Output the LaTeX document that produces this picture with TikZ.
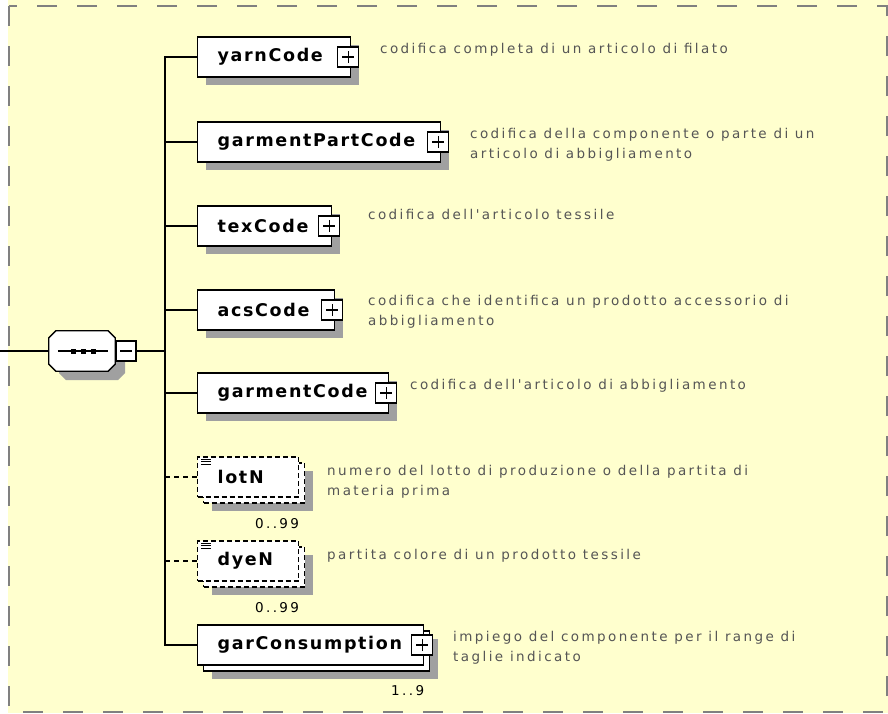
\documentclass[tikz,border=0pt]{standalone}
\usepackage{fontspec}
\usetikzlibrary{shadows}
\newfontfamily\lblfont{DejaVu Sans Bold}[LetterSpace=9.5]
\newfontfamily\descfont{DejaVu Sans}[LetterSpace=18]
\definecolor{bgyellow}{RGB}{255,255,206}
\definecolor{shadowgray}{RGB}{160,160,160}
\definecolor{bordergray}{RGB}{128,128,128}
\definecolor{desctext}{RGB}{85,85,85}

\begin{document}
\begin{tikzpicture}[x=1pt,y=-1pt,
  conn/.style={line width=1.3pt},
  optconn/.style={line width=1.3pt,dash pattern=on 5pt off 4pt},
  elembase/.style={draw,fill=white,line width=1.3pt,minimum height=40,inner xsep=20,inner ysep=0,
    text width=#1,align=left,anchor=west,font=\lblfont\fontsize{17.5}{19}\selectfont},
  elem/.style={drop shadow={shadow xshift=8pt,shadow yshift=-8pt,fill=shadowgray,opacity=1},elembase=#1},
  elemmany/.style={drop shadow={shadow xshift=14pt,shadow yshift=-14pt,fill=shadowgray,opacity=1},
    copy shadow={shadow xshift=6pt,shadow yshift=-6pt,draw=black,fill=white,line width=1.3pt},elembase=#1},
  elemopt/.style={drop shadow={shadow xshift=14pt,shadow yshift=-14pt,fill=shadowgray,opacity=1},
    copy shadow={shadow xshift=6pt,shadow yshift=-6pt,draw=black,fill=white,line width=1.3pt,dash pattern=on 5pt off 3pt},
    elembase=#1,dash pattern=on 5pt off 3pt},
  plusbox/.style={draw,fill=white,line width=1.1pt,minimum width=21,minimum height=20,inner sep=0,
    path picture={\draw[line width=1.1pt] ([xshift=-6pt]path picture bounding box.center) -- ([xshift=6pt]path picture bounding box.center)
      ([yshift=-6pt]path picture bounding box.center) -- ([yshift=6pt]path picture bounding box.center);}},
  minusbox/.style={draw,fill=white,line width=1.1pt,minimum width=20,minimum height=20,inner sep=0,
    path picture={\draw[line width=1.1pt] ([xshift=-6pt]path picture bounding box.center) -- ([xshift=6pt]path picture bounding box.center);}},
  seqbox/.style={minimum width=66,minimum height=40,inner sep=0},
  desc/.style={anchor=north west,inner sep=0,align=left,text=desctext,font=\descfont\fontsize{13.5}{20}\selectfont},
  card/.style={anchor=east,inner sep=0,font=\descfont\fontsize{13.5}{15}\selectfont}
]
\useasboundingbox (0,0) rectangle (888,713);
\fill[bgyellow] (8,0) rectangle (888,713);
\draw[bordergray,line width=2pt,dash pattern=on 20pt off 20pt] (9,6) rectangle (887,712);

% sequence
\node[seqbox] (seq) at (82,351) {};
\fill[shadowgray] (66,340) -- (118,340) -- (125,347) -- (125,373) -- (118,380) -- (66,380) -- (59,373) -- (59,347) -- cycle;
\draw[fill=white,line width=1.3pt] (seq.north west) ++(7,0) -- ([xshift=-7]seq.north east) -- ([yshift=-7]seq.north east)
  -- ([yshift=7]seq.south east) -- ([xshift=-7]seq.south east) -- ([xshift=7]seq.south west) -- ([yshift=7]seq.south west)
  -- ([yshift=-7]seq.north west) -- cycle;
\draw[line width=1.3pt] ([xshift=9]seq.west) -- ([xshift=-7]seq.east);
\foreach \dx in {-9,1,11}
  \fill ([xshift=\dx]seq.center) +(-2.5,-2.5) rectangle +(2.5,2.5);
\node[minusbox] (seqx) at (126,351) {};
\coordinate (in) at (0,351);
\coordinate (trunk) at (165,351);

% children
\node[elem=113] (yarn) at (197,57) {yarnCode};
\node[elem=203] (gpc) at (197,142) {garmentPartCode};
\node[elem=94] (tex) at (197,226) {texCode};
\node[elem=97] (acs) at (197,310) {acsCode};
\node[elem=151] (gc) at (197,393) {garmentCode};
\node[elemopt=61] (lot) at (197,477) {lotN};
\node[elemopt=61] (dye) at (197,561) {dyeN};
\node[elemmany=186] (gcons) at (197,645) {garConsumption};

\node[plusbox] (yarnx) at ([xshift=-3]yarn.east) {};
\node[plusbox] (gpcx) at ([xshift=-3]gpc.east) {};
\node[plusbox] (texx) at ([xshift=-3]tex.east) {};
\node[plusbox] (acsx) at ([xshift=-3]acs.east) {};
\node[plusbox] (gcx) at ([xshift=-3]gc.east) {};
\node[plusbox] (gconsx) at ([xshift=-2]gcons.east) {};

\foreach \n in {lot,dye}
  \foreach \d in {3,5.5,8}
    \draw[line width=0.8pt] ([shift={(4,\d)}]\n.north west) -- +(10,0);

\node[card] (lotcard) at ([yshift=-26]lot.south east) {0..99};
\node[card] (dyecard) at ([yshift=-26]dye.south east) {0..99};
\node[card] (gconscard) at ([yshift=-25]gcons.south east) {1..9};

% connectors
\draw[conn] (in) -- (seq.west);
\draw[conn] (seqx.east) -- (trunk);
\draw[conn] (yarn.west) -| (trunk) |- (gcons.west);
\foreach \n in {gpc,tex,acs,gc}
  \draw[conn] (\n.west -| trunk) -- (\n.west);
\foreach \n in {lot,dye}
  \draw[optconn] (\n.west -| trunk) -- (\n.west);

% annotations
\node[desc] (yarnd) at (380,43) {codifica completa di un articolo di filato};
\node[desc] (gpcd) at (470,128) {codifica della componente o parte di un\\articolo di abbigliamento};
\node[desc] (texd) at (368,209) {codifica dell'articolo tessile};
\node[desc] (acsd) at (368,295) {codifica che identifica un prodotto accessorio di\\abbigliamento};
\node[desc] (gcd) at (410,379) {codifica dell'articolo di abbigliamento};
\node[desc] (lotd) at (327,465) {numero del lotto di produzione o della partita di\\materia prima};
\node[desc] (dyed) at (327,549) {partita colore di un prodotto tessile};
\node[desc] (gconsd) at (453,631) {impiego del componente per il range di\\taglie indicato};
\end{tikzpicture}
\end{document}
